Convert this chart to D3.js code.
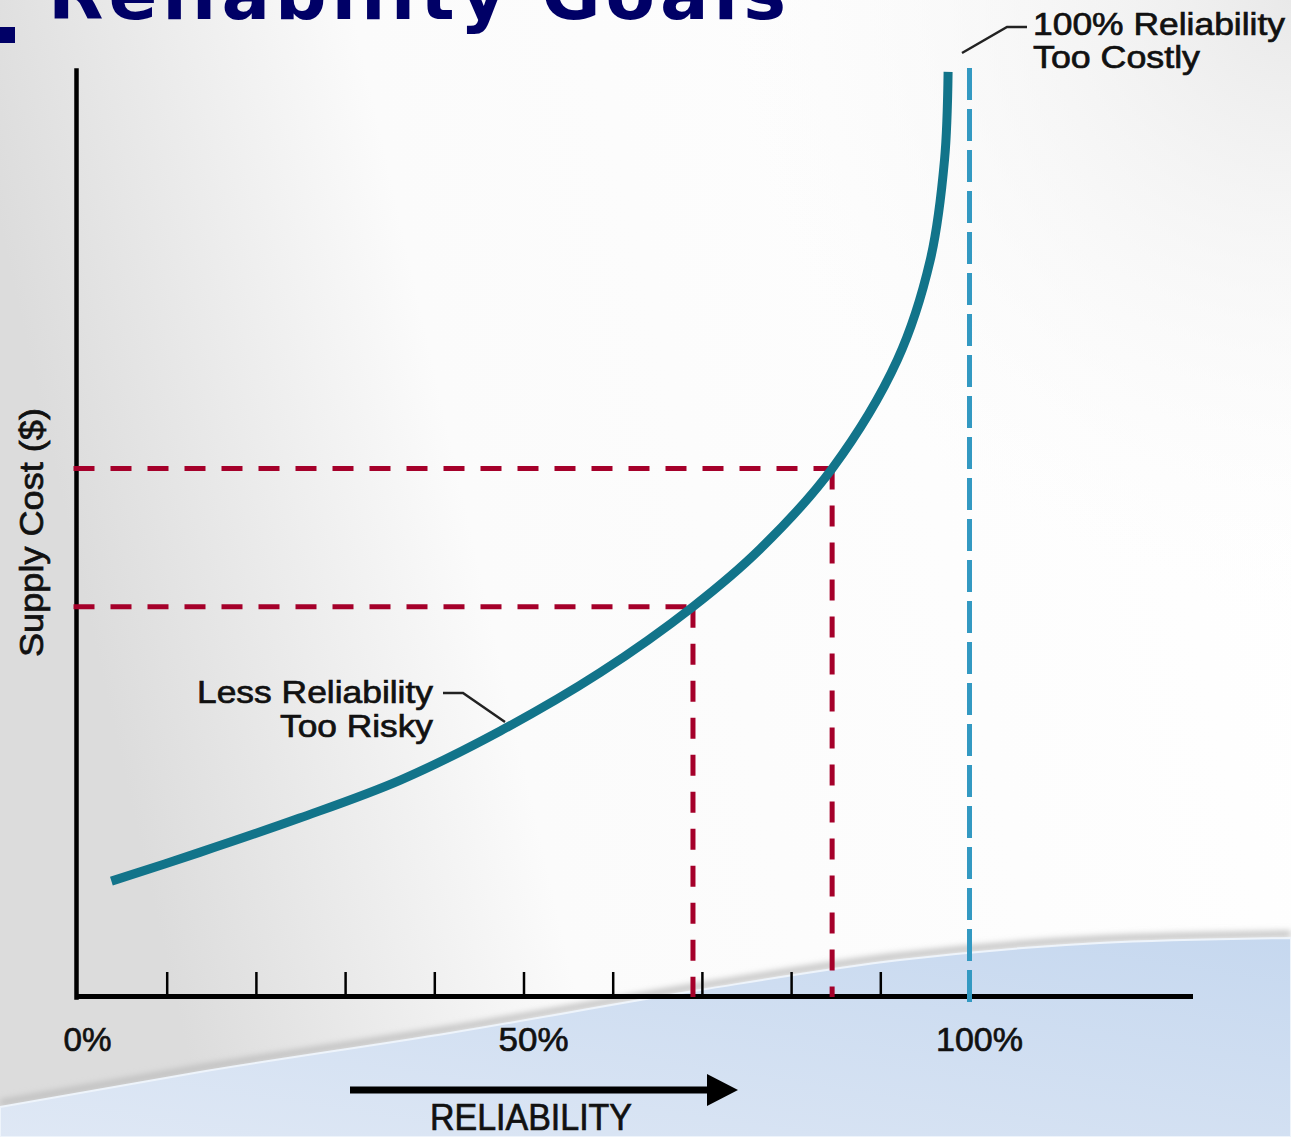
<!DOCTYPE html>
<html>
<head>
<meta charset="utf-8">
<script src="https://cdn.jsdelivr.net/npm/d3@7"></script>
<style>
  body { margin: 0; background: #fff; }
  svg { display: block; }
  .lbl { font-family: "Liberation Sans", Arial, Helvetica, sans-serif; fill: #111; stroke: #111; stroke-width: 0.7; }
</style>
</head>
<body>
<div id="chart"></div>
<script>
// reliability (%) along the cost curve and the supply cost read at each point (relative units)
var reliability = [3.8, 13.7, 24.9, 36.2, 47.4, 58.6, 69.0, 76.5, 84.6, 91.9, 95.6, 97.2, 97.6];
var supplyCost  = [12.5, 15.6, 19.3, 23.4, 28.7, 35.0, 42.1, 48.3, 57.0, 68.7, 79.5, 90.3, 99.8];

// the two targets picked off the curve (red guides)
var targetReliability = [69.0, 84.6];
var targetCost = [42.1, 57.0];

// the unreachable limit (blue guide)
var limitReliability = 100;

// x axis ticks and labels
var tickValues = [10, 20, 30, 40, 50, 60, 70, 80, 90, 100];
var labelValues = [0, 50, 100];
var labelText = ["0%", "50%", "100%"];

var svgWidth = 1291;
var svgHeight = 1137;

var svg = d3.select("#chart")
  .append("svg")
  .attr("width", svgWidth)
  .attr("height", svgHeight);

var defs = svg.append("defs");

// slide background
var bg = defs.append("linearGradient").attr("id", "bgH").attr("x1", 0).attr("x2", 1).attr("y1", 0.2).attr("y2", 0);
bg.append("stop").attr("offset", "0%").attr("stop-color", "#dcdcdc");
bg.append("stop").attr("offset", "30%").attr("stop-color", "#fbfbfb");
bg.append("stop").attr("offset", "100%").attr("stop-color", "#ffffff");

var bgTR = defs.append("radialGradient").attr("id", "bgTR")
  .attr("gradientUnits", "userSpaceOnUse").attr("cx", 1291).attr("cy", 0).attr("r", 650);
bgTR.append("stop").attr("offset", "0%").attr("stop-color", "#e9e9e9").attr("stop-opacity", 1);
bgTR.append("stop").attr("offset", "100%").attr("stop-color", "#ffffff").attr("stop-opacity", 0);

var wave = defs.append("linearGradient").attr("id", "wave").attr("x1", 0).attr("x2", 1).attr("y1", 1).attr("y2", 0);
wave.append("stop").attr("offset", "0%").attr("stop-color", "#dfe8f5");
wave.append("stop").attr("offset", "100%").attr("stop-color", "#c6d8ef");

defs.append("filter").attr("id", "blur").append("feGaussianBlur").attr("stdDeviation", 3);

svg.append("rect").attr("width", svgWidth).attr("height", svgHeight).attr("fill", "url(#bgH)");
svg.append("rect").attr("width", svgWidth).attr("height", svgHeight).attr("fill", "url(#bgTR)");

// blue wave at the bottom
var waveEdge = [[0, 1107], [200, 1072], [450, 1033], [700, 990], [900, 960], [1100, 943], [1291, 938]];
var waveLine = d3.line().curve(d3.curveMonotoneX);
svg.append("path")
  .attr("d", waveLine(waveEdge))
  .attr("fill", "none")
  .attr("stroke", "#bdbdbd")
  .attr("stroke-width", 6)
  .attr("transform", "translate(0,-4)")
  .attr("filter", "url(#blur)");
svg.append("path")
  .attr("d", waveLine(waveEdge) + "L1291,1137L0,1137Z")
  .attr("fill", "url(#wave)")
  .attr("stroke", "#eef4fb")
  .attr("stroke-width", 2);

// title (cut off by the top edge)
svg.append("rect").attr("x", 0).attr("y", 27).attr("width", 15).attr("height", 16).attr("fill", "#000066");
svg.append("text")
  .attr("x", 48)
  .attr("y", 19)
  .attr("font-family", "'DejaVu Sans', Verdana, sans-serif")
  .attr("font-weight", "bold")
  .attr("font-size", 72)
  .attr("textLength", 738)
  .attr("fill", "#000066")
  .text("Reliability Goals");

// scales
var xScale = d3.scaleLinear().domain([0, 125]).range([77.5, 1192.5]);
var yScale = d3.scaleLinear().domain([0, 100]).range([997, 70]);

// axes
var xAxis = svg.append("g")
  .attr("transform", "translate(0, 996)")
  .call(d3.axisBottom(xScale).tickValues(tickValues).tickSize(-24).tickSizeOuter(0).tickFormat(""));
xAxis.select(".domain").attr("stroke", "#000").attr("stroke-width", 5);
xAxis.selectAll(".tick line").attr("stroke", "#000").attr("stroke-width", 2.5);

var yAxis = svg.append("g")
  .attr("transform", "translate(76, 0)")
  .call(d3.axisLeft(yScale).tickValues([]).tickSizeOuter(0));
yAxis.select(".domain").attr("stroke", "#000").attr("stroke-width", 4.5).attr("stroke-linecap", "square");

// red guides
targetReliability.forEach(function(r, i) {
  var c = targetCost[i];
  svg.append("line")
    .attr("x1", xScale(0) - 4).attr("x2", xScale(r))
    .attr("y1", yScale(c)).attr("y2", yScale(c))
    .attr("stroke", "#a5002a").attr("stroke-width", 5).attr("stroke-dasharray", "21 16");
  svg.append("line")
    .attr("x1", xScale(r)).attr("x2", xScale(r))
    .attr("y1", yScale(c)).attr("y2", yScale(0))
    .attr("stroke", "#a5002a").attr("stroke-width", 5).attr("stroke-dasharray", "21 16");
});

// blue 100% guide
svg.append("line")
  .attr("x1", xScale(limitReliability)).attr("x2", xScale(limitReliability))
  .attr("y1", yScale(100) - 2).attr("y2", yScale(0) + 5)
  .attr("stroke", "#3399c2").attr("stroke-width", 5).attr("stroke-dasharray", "32 9");

// cost curve
var curveData = reliability.map(function(r, i) { return { r: r, c: supplyCost[i] }; });
svg.append("path")
  .datum(curveData)
  .attr("d", d3.line().curve(d3.curveCatmullRom.alpha(0.5))
    .x(function(d) { return xScale(d.r); })
    .y(function(d) { return yScale(d.c); }))
  .attr("fill", "none")
  .attr("stroke", "#12748a")
  .attr("stroke-width", 9);

// tick labels
svg.selectAll(".xlab")
  .data(labelValues)
  .enter()
  .append("text")
  .attr("class", "lbl")
  .attr("x", function(d) { return xScale(d) + 10; })
  .attr("y", 1051)
  .attr("text-anchor", "middle")
  .attr("font-size", 34)
  .attr("textLength", function(d, i) { return [48, 70, 87][i]; })
  .attr("lengthAdjust", "spacingAndGlyphs")
  .text(function(d, i) { return labelText[i]; });

// axis titles
svg.append("text")
  .attr("class", "lbl")
  .attr("transform", "translate(43, 657) rotate(-90)")
  .attr("font-size", 34)
  .attr("textLength", 249)
  .attr("lengthAdjust", "spacingAndGlyphs")
  .text("Supply Cost ($)");

svg.append("line")
  .attr("x1", 350).attr("x2", 712).attr("y1", 1090).attr("y2", 1090)
  .attr("stroke", "#000").attr("stroke-width", 7);
svg.append("path")
  .attr("d", "M707,1074L738,1090L707,1106Z")
  .attr("fill", "#000");
svg.append("text")
  .attr("class", "lbl")
  .attr("x", 430)
  .attr("y", 1130)
  .attr("font-size", 36)
  .attr("textLength", 202)
  .attr("lengthAdjust", "spacingAndGlyphs")
  .text("RELIABILITY");

// annotations
function note(x, y, txt, w, anchor) {
  svg.append("text")
    .attr("class", "lbl")
    .attr("x", x).attr("y", y)
    .attr("font-size", 32)
    .attr("text-anchor", anchor || "start")
    .attr("textLength", w)
    .attr("lengthAdjust", "spacingAndGlyphs")
    .text(txt);
}
note(1033, 35, "100% Reliability", 252);
note(1033, 68, "Too Costly", 167);
note(433, 703, "Less Reliability", 236, "end");
note(433, 737, "Too Risky", 153, "end");

svg.append("path")
  .attr("d", "M962,53L1007,27L1027,27")
  .attr("fill", "none").attr("stroke", "#222").attr("stroke-width", 2.5);
svg.append("path")
  .attr("d", "M443,693L463,693L505,722")
  .attr("fill", "none").attr("stroke", "#222").attr("stroke-width", 2.5);
</script>
</body>
</html>
